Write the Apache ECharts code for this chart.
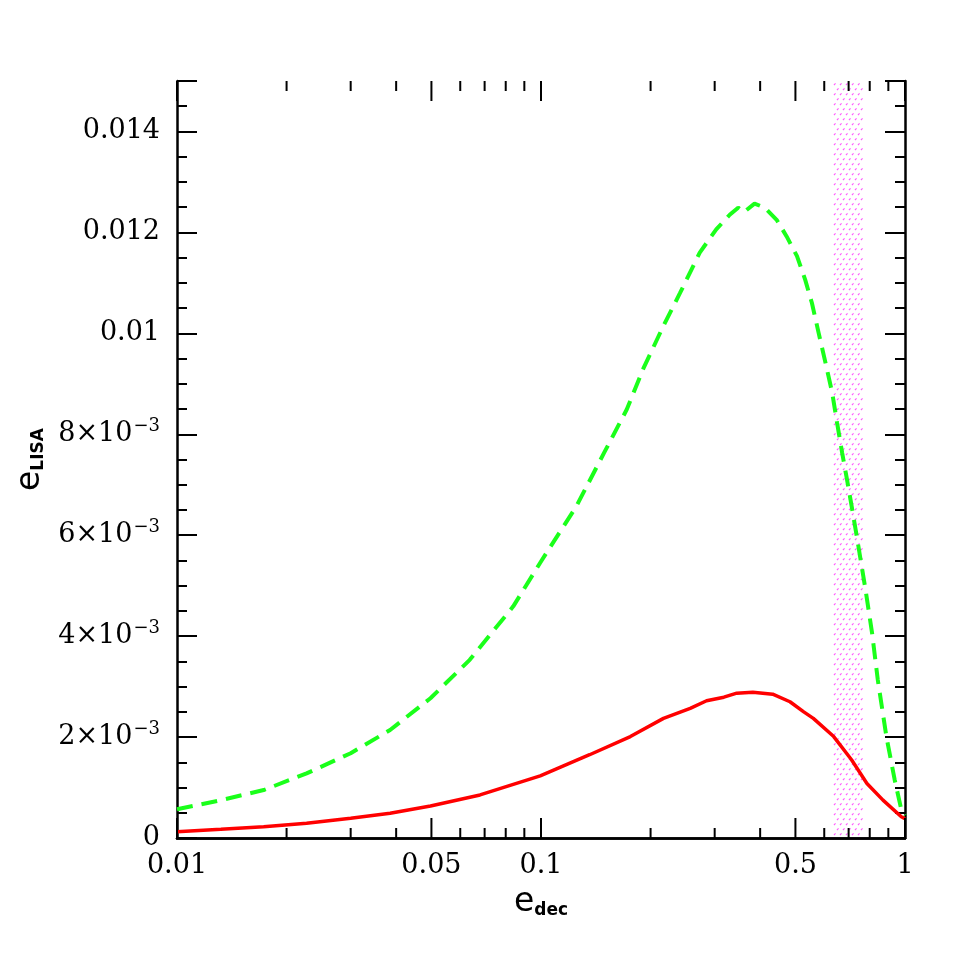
<!DOCTYPE html>
<html>
<head>
<meta charset="utf-8">
<script src="https://cdn.jsdelivr.net/npm/echarts@6/dist/echarts.min.js"></script>
<style>
  html, body { margin: 0; padding: 0; background: #fff; }
  #main { width: 955px; height: 955px; }
</style>
</head>
<body>
<div id="main"></div>
<script>
// e_dec values (x) and e_LISA values (y)
const greenX = [0.01, 0.0132, 0.0173, 0.0227, 0.03, 0.0385, 0.0497, 0.0637, 0.0839, 0.0994, 0.125, 0.149, 0.172, 0.191, 0.217, 0.241, 0.273, 0.303, 0.33, 0.348, 0.361, 0.386, 0.412, 0.444, 0.473, 0.505, 0.532, 0.555, 0.579, 0.605, 0.631, 0.651, 0.672, 0.693, 0.711, 0.737, 0.779, 0.812, 0.842, 0.889, 0.937, 0.977, 1.0];
const greenY = [0.00057, 0.00075, 0.00095, 0.00128, 0.00168, 0.00214, 0.00277, 0.00353, 0.00459, 0.00545, 0.00657, 0.00763, 0.00849, 0.0093, 0.01015, 0.0108, 0.0116, 0.01206, 0.01235, 0.01249, 0.0124, 0.01257, 0.01249, 0.01225, 0.01192, 0.01153, 0.01106, 0.0106, 0.01001, 0.00941, 0.00882, 0.00822, 0.00763, 0.0071, 0.00664, 0.00598, 0.00492, 0.00406, 0.00313, 0.00201, 0.00115, 0.00056, 0.00045];

const redX = [0.01, 0.0132, 0.0173, 0.0227, 0.03, 0.0385, 0.0497, 0.068, 0.0995, 0.136, 0.176, 0.217, 0.257, 0.285, 0.318, 0.345, 0.382, 0.433, 0.483, 0.527, 0.56, 0.637, 0.713, 0.786, 0.87, 0.977, 1.0];
const redY = [0.000125, 0.000172, 0.000224, 0.000291, 0.00039, 0.00049, 0.000635, 0.000853, 0.00123, 0.00165, 0.00201, 0.00237, 0.00257, 0.00272, 0.00279, 0.00287, 0.00289, 0.00285, 0.0027, 0.0025, 0.00237, 0.00201, 0.00155, 0.00108, 0.00075, 0.00042, 0.00038];

// shaded band in e_dec
const bandRange = [0.63, 0.775];

// x ticks (log axis) and labelled ticks
const xTickVals = [0.01, 0.02, 0.03, 0.04, 0.05, 0.06, 0.07, 0.08, 0.09, 0.1, 0.2, 0.3, 0.4, 0.5, 0.6, 0.7, 0.8, 0.9, 1];
const xLabelVals = [0.01, 0.05, 0.1, 0.5, 1];
const xLabelText = ['0.01', '0.05', '0.1', '0.5', '1'];

const FONT = 'DejaVu Serif';

const pairs = (xs, ys) => xs.map((x, i) => [x, ys[i]]);

const yLabel = (v) => {
  const k = Math.round(v * 1000);
  if (k === 0) return '0';
  if (k >= 15) return '';
  if (k < 10) return k + '×10{sup|−3}';
  return String(k / 1000);
};

const axisLine = { show: true, lineStyle: { color: '#000', width: 2.5 } };
const yCommon = { type: 'value', min: 0, max: 0.015, splitLine: { show: false } };
const subStyle = { fontFamily: 'DejaVu Sans', fontWeight: 'bold', fontSize: 17, color: '#000', padding: [16, 0, 0, 0] };

var myChart = echarts.init(document.getElementById('main'), null, { renderer: 'canvas' });
myChart.setOption({
  backgroundColor: '#fff',
  animation: false,
  grid: { left: 177, right: 50, top: 81, bottom: 117 },
  xAxis: [
    {
      type: 'log', logBase: 10, min: 0.01, max: 1, position: 'bottom',
      axisLine: axisLine, axisTick: { show: false }, axisLabel: { show: false }, splitLine: { show: false },
      name: 'e{sub|dec}', nameLocation: 'middle', nameGap: 48,
      nameTextStyle: { rich: { sub: subStyle }, fontFamily: 'DejaVu Sans', fontSize: 33, color: '#000' }
    },
    {
      type: 'log', logBase: 10, min: 0.01, max: 1, position: 'top',
      axisLine: axisLine, axisTick: { show: false }, axisLabel: { show: false }, splitLine: { show: false }
    }
  ],
  yAxis: [
    Object.assign({}, yCommon, {
      position: 'left', interval: 0.002,
      axisLine: axisLine,
      axisTick: { show: true, inside: true, length: 20, lineStyle: { color: '#000', width: 2 } },
      axisLabel: {
        margin: 17, formatter: yLabel, color: '#000', fontFamily: FONT, fontSize: 27,
        rich: {
          sup: { fontFamily: FONT, fontSize: 18, color: '#000', verticalAlign: 'top', padding: [0, 0, 15, 1] }
        }
      },
      name: 'e{sub|LISA}', nameLocation: 'middle', nameGap: 128, nameRotate: 90,
      nameTextStyle: { rich: { sub: subStyle }, fontFamily: 'DejaVu Sans', fontSize: 33, color: '#000' }
    }),
    Object.assign({}, yCommon, {
      position: 'left', interval: 0.0005,
      axisLine: { show: false },
      axisTick: { show: true, inside: true, length: 10, lineStyle: { color: '#000', width: 2 } },
      axisLabel: { show: false }
    }),
    Object.assign({}, yCommon, {
      position: 'right', interval: 0.002,
      axisLine: axisLine,
      axisTick: { show: true, inside: true, length: 20, lineStyle: { color: '#000', width: 2 } },
      axisLabel: { show: false }
    }),
    Object.assign({}, yCommon, {
      position: 'right', interval: 0.0005,
      axisLine: { show: false },
      axisTick: { show: true, inside: true, length: 10, lineStyle: { color: '#000', width: 2 } },
      axisLabel: { show: false }
    })
  ],
  series: [
    {
      // dotted pink e_dec band
      type: 'custom',
      xAxisIndex: 0, yAxisIndex: 0,
      silent: true, z: 1,
      data: [[bandRange[0], bandRange[1]]],
      encode: { x: [0, 1] },
      renderItem: function (params, api) {
        var p0 = api.coord([api.value(0), 0.015]);
        var p1 = api.coord([api.value(1), 0]);
        var dots = [];
        var row = 0;
        for (var y = p0[1] + 3; y < p1[1] - 1; y += 5, row++) {
          for (var x = p0[0] + 2 + (row % 2) * 3; x < p1[0] - 1; x += 6) {
            dots.push({
              type: 'line',
              shape: { x1: x, y1: y + 1, x2: x + 1.6, y2: y - 0.6 },
              style: { stroke: '#ff5cff', lineWidth: 1.1 }
            });
          }
        }
        return { type: 'group', children: dots };
      }
    },
    {
      // log-axis ticks on bottom and top, with labels under the labelled ones
      type: 'custom',
      xAxisIndex: 0, yAxisIndex: 0,
      clip: false, silent: true, z: 5,
      data: xTickVals.map(v => [v, 0]),
      encode: { x: 0, y: 1 },
      renderItem: function (params, api) {
        var v = api.value(0);
        var idx = xLabelVals.indexOf(v);
        var len = idx >= 0 ? 20 : 10;
        var pb = api.coord([v, 0]);
        var pt = api.coord([v, 0.015]);
        var children = [
          { type: 'line', shape: { x1: pb[0], y1: pb[1], x2: pb[0], y2: pb[1] - len }, style: { stroke: '#000', lineWidth: 2 } },
          { type: 'line', shape: { x1: pt[0], y1: pt[1], x2: pt[0], y2: pt[1] + len }, style: { stroke: '#000', lineWidth: 2 } }
        ];
        if (idx >= 0) {
          children.push({
            type: 'text',
            style: {
              x: pb[0], y: pb[1] + 14, text: xLabelText[idx],
              textAlign: 'center', textVerticalAlign: 'top',
              fill: '#000', font: '27px "' + FONT + '"'
            }
          });
        }
        return { type: 'group', children: children };
      }
    },
    {
      name: 'green',
      type: 'line',
      data: pairs(greenX, greenY),
      showSymbol: false, symbol: 'none', z: 3,
      lineStyle: { color: '#1aff1a', width: 4, type: [16, 9] }
    },
    {
      name: 'red',
      type: 'line',
      data: pairs(redX, redY),
      showSymbol: false, symbol: 'none', z: 4,
      lineStyle: { color: '#ff0000', width: 3.5 }
    }
  ]
});
</script>
</body>
</html>
